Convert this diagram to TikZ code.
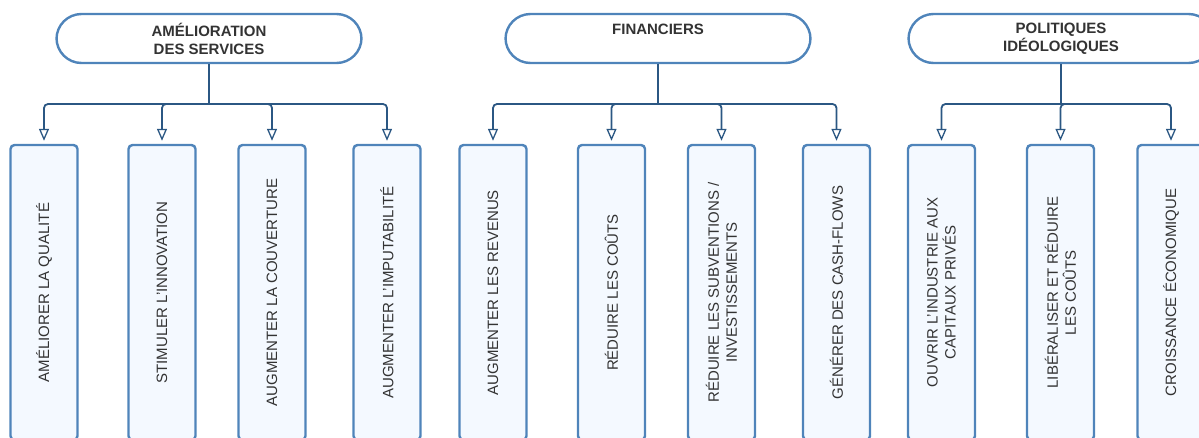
\documentclass[tikz,border=0pt]{standalone}
\usepackage{fontspec}
\setmainfont{Liberation Sans}
\usetikzlibrary{arrows.meta}

\definecolor{edgeblue}{HTML}{4F84BA}
\definecolor{linkblue}{HTML}{2B5783}
\definecolor{boxfill}{HTML}{F4F9FF}
\definecolor{ink}{HTML}{333333}

\tikzset{
  pill/.style={draw=edgeblue, line width=2.4pt, fill=white, rounded corners=25pt,
    minimum width=305pt, minimum height=49pt, inner sep=0pt, align=center,
    text=ink, font=\fontsize{15}{18}\selectfont\bfseries},
  leaf/.style={draw=edgeblue, line width=2.4pt, fill=boxfill, rounded corners=4pt,
    rotate=90, minimum width=295pt, minimum height=67pt, inner sep=0pt,
    align=center, text=ink, font=\fontsize{15}{18}\selectfont},
  link/.style={draw=linkblue, line width=1.8pt, rounded corners=4pt,
    shorten >=3pt, -{Triangle[width=10pt,length=12pt,line width=1.3pt,fill=white]}},
  stem/.style={draw=linkblue, line width=1.8pt},
}

\begin{document}
\begin{tikzpicture}[x=1pt,y=-1pt]
\useasboundingbox (0,0) rectangle (1199,437);

% category headers
\node[pill] (p1) at (209,38.5) {AMÉLIORATION\\DES SERVICES};
\node[pill] (p2) at (658,38.5) {FINANCIERS\\\mbox{}};
\node[pill] (p3) at (1061,38.5) {POLITIQUES\\IDÉOLOGIQUES};

% leaves
\node[leaf] (a1) at (44,292.5) {AMÉLIORER LA QUALITÉ};
\node[leaf] (a2) at (162,292.5) {STIMULER L'INNOVATION};
\node[leaf] (a3) at (272,292.5) {AUGMENTER LA COUVERTURE};
\node[leaf] (a4) at (387,292.5) {AUGMENTER L'IMPUTABILITÉ};

\node[leaf] (f1) at (493,292.5) {AUGMENTER LES REVENUS};
\node[leaf] (f2) at (611.5,292.5) {RÉDUIRE LES COÛTS};
\node[leaf] (f3) at (721.5,292.5) {RÉDUIRE LES SUBVENTIONS /\\INVESTISSEMENTS};
\node[leaf] (f4) at (836.5,292.5) {GÉNÉRER DES CASH-FLOWS};

\node[leaf] (i1) at (941.5,292.5) {OUVRIR L'INDUSTRIE AUX\\CAPITAUX PRIVÉS};
\node[leaf] (i2) at (1060.5,292.5) {LIBÉRALISER ET RÉDUIRE\\LES COÛTS};
\node[leaf] (i3) at (1171,292.5) {CROISSANCE ÉCONOMIQUE};

% branch points
\coordinate (j1) at (209,104);
\coordinate (j2) at (658,104);
\coordinate (j3) at (1061,104);

% connectors
\draw[stem] (p1.south) -- (j1);
\foreach \n in {a1,a2,a3,a4} \draw[link] (j1) -| (\n.east);
\draw[stem] (p2.south) -- (j2);
\foreach \n in {f1,f2,f3,f4} \draw[link] (j2) -| (\n.east);
\draw[stem] (p3.south) -- (j3);
\foreach \n in {i1,i2,i3} \draw[link] (j3) -| (\n.east);
\end{tikzpicture}
\end{document}
